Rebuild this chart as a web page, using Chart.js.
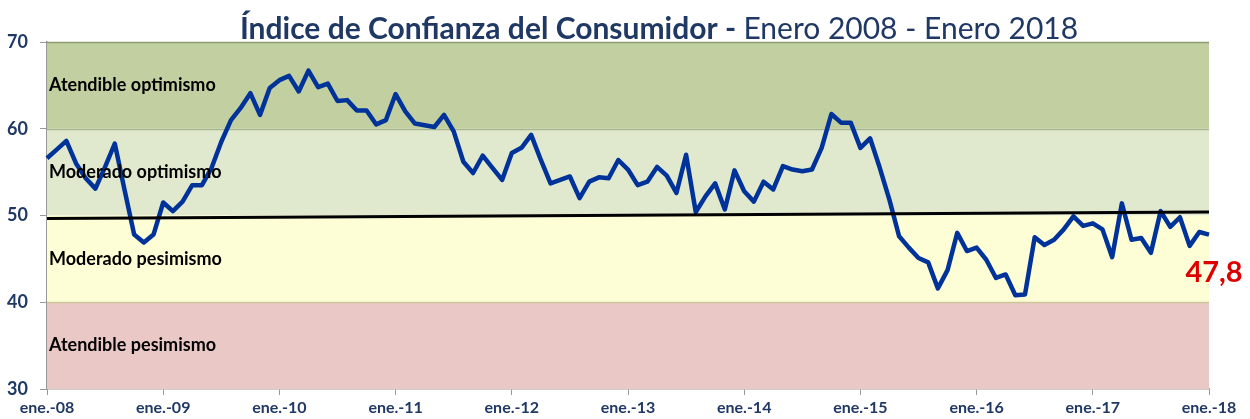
<!DOCTYPE html>
<html lang="es">
<head>
  <meta charset="UTF-8" />
  <title>Índice de Confianza del Consumidor</title>
  <script src="https://cdn.jsdelivr.net/npm/chart.js"></script>
  <style>
    html, body { margin: 0; padding: 0; background: #fff; }
    #wrap { width: 1250px; height: 419px; position: relative; }
  </style>
</head>
<body>
  <div id="wrap"><canvas id="icc"></canvas></div>

  <script>
    // monthly index, ene.-08 .. ene.-18
    const icc2008 = [56.6, 57.6, 58.6, 56.0, 54.3, 53.1, 55.6, 58.3, 53.0, 47.8, 46.9, 47.8];
    const icc2009 = [51.5, 50.5, 51.6, 53.5, 53.5, 55.5, 58.5, 61.0, 62.4, 64.1, 61.6, 64.7];
    const icc2010 = [65.6, 66.1, 64.3, 66.7, 64.8, 65.2, 63.2, 63.3, 62.1, 62.1, 60.5, 61.0];
    const icc2011 = [64.0, 62.0, 60.6, 60.4, 60.2, 61.6, 59.7, 56.2, 54.9, 56.9, 55.5, 54.1];
    const icc2012 = [57.2, 57.8, 59.3, 56.4, 53.7, 54.1, 54.5, 52.0, 53.9, 54.4, 54.3, 56.4];
    const icc2013 = [55.3, 53.5, 53.9, 55.6, 54.6, 52.6, 57.0, 50.4, 52.2, 53.7, 50.7, 55.2];
    const icc2014 = [52.8, 51.6, 53.9, 53.0, 55.7, 55.3, 55.1, 55.3, 57.8, 61.7, 60.7, 60.7];
    const icc2015 = [57.8, 58.9, 55.5, 51.8, 47.6, 46.3, 45.1, 44.6, 41.6, 43.7, 48.0, 45.9];
    const icc2016 = [46.3, 44.9, 42.8, 43.2, 40.8, 40.9, 47.5, 46.6, 47.2, 48.4, 49.9, 48.8];
    const icc2017 = [49.1, 48.4, 45.2, 51.4, 47.2, 47.4, 45.7, 50.5, 48.7, 49.8, 46.5, 48.1];
    const icc2018 = [47.8];

    const monthNames = ['ene.', 'feb.', 'mar.', 'abr.', 'may.', 'jun.', 'jul.', 'ago.', 'sep.', 'oct.', 'nov.', 'dic.'];
    const years = ['08', '09', '10', '11', '12', '13', '14', '15', '16', '17', '18'];
    const yTicks = [30, 40, 50, 60, 70];

    // black trend line: start / end
    const trendValues = [49.65, 50.4];

    // zones
    const zoneNames = ['Atendible optimismo', 'Moderado optimismo', 'Moderado pesimismo', 'Atendible pesimismo'];
    const zoneFrom = [60, 50, 40, 30];
    const zoneTo = [70, 60, 50, 40];
    const zoneColors = ['#c2d0a1', '#e0e8ce', '#fefed6', '#eac8c6'];

    const series = [].concat(icc2008, icc2009, icc2010, icc2011, icc2012, icc2013,
      icc2014, icc2015, icc2016, icc2017, icc2018);
    const labels = [];
    years.forEach(y => monthNames.forEach(m => labels.push(m + '-' + y)));
    labels.length = series.length;

    const navy = '#1f3864';
    const fontFam = 'Lato, "Open Sans", sans-serif';

    const zonePlugin = {
      id: 'zones',
      beforeDatasetsDraw(chart) {
        const { ctx, chartArea: a, scales: { y } } = chart;
        ctx.save();
        zoneNames.forEach((n, i) => {
          const top = y.getPixelForValue(zoneTo[i]);
          const bot = y.getPixelForValue(zoneFrom[i]);
          ctx.fillStyle = zoneColors[i];
          ctx.fillRect(a.left, top, a.right - a.left, bot - top);
        });
        // band edges
        const edges = [[70, '#8c9c70'], [60, '#a8b68d'], [40, '#cbc79b']];
        edges.forEach(([v, c]) => {
          const p = Math.round(y.getPixelForValue(v)) + 0.5;
          ctx.strokeStyle = c;
          ctx.lineWidth = 1.5;
          ctx.beginPath();
          ctx.moveTo(a.left, p);
          ctx.lineTo(a.right, p);
          ctx.stroke();
        });
        ctx.restore();
      },
      afterDatasetsDraw(chart) {
        const { ctx, chartArea: a, scales: { x, y } } = chart;
        ctx.save();
        // zone names
        ctx.font = 'bold 18px ' + fontFam;
        ctx.fillStyle = '#000';
        ctx.textBaseline = 'middle';
        zoneNames.forEach((n, i) => {
          const mid = y.getPixelForValue((zoneFrom[i] + zoneTo[i]) / 2);
          ctx.fillText(n, a.left + 2, mid);
        });
        // last value
        const last = series[series.length - 1];
        const lx = x.getPixelForValue(series.length - 1);
        const ly = y.getPixelForValue(last);
        ctx.font = 'bold 29px ' + fontFam;
        ctx.fillStyle = '#dd0000';
        ctx.textAlign = 'center';
        ctx.textBaseline = 'alphabetic';
        ctx.fillText(last.toFixed(1).replace('.', ','), lx + 5, ly + 47);
        // title (bold part + normal part)
        const t1 = 'Índice de Confianza del Consumidor - ';
        const t2 = 'Enero 2008 - Enero 2018';
        ctx.textAlign = 'left';
        ctx.fillStyle = navy;
        ctx.font = 'bold 30px ' + fontFam;
        const w1 = ctx.measureText(t1).width;
        ctx.font = '30px ' + fontFam;
        const w2 = ctx.measureText(t2).width;
        let tx = 659 - (w1 + w2) / 2;
        ctx.font = 'bold 30px ' + fontFam;
        ctx.fillText(t1, tx, 39);
        ctx.font = '30px ' + fontFam;
        ctx.fillText(t2, tx + w1, 39);
        ctx.restore();
      }
    };

    new Chart(document.getElementById('icc'), {
      type: 'line',
      data: {
        labels,
        datasets: [
          {
            label: 'ICC',
            data: series,
            borderColor: '#003399',
            borderWidth: 4.5,
            pointRadius: 0,
            tension: 0,
            borderJoinStyle: 'round',
            order: 2
          },
          {
            label: 'Tendencia',
            data: [
              { x: labels[0], y: trendValues[0] },
              { x: labels[labels.length - 1], y: trendValues[1] }
            ],
            borderColor: '#000',
            borderWidth: 3,
            pointRadius: 0,
            order: 1
          }
        ]
      },
      options: {
        responsive: true,
        maintainAspectRatio: false,
        animation: false,
        layout: { padding: { top: 42, right: 41, left: 0, bottom: 0 } },
        plugins: { legend: { display: false }, tooltip: { enabled: false }, title: { display: false } },
        scales: {
          x: {
            type: 'category',
            offset: false,
            afterFit: s => { s.height = 30; },
            border: { color: '#999', width: 1.5 },
            grid: {
              drawOnChartArea: false,
              tickLength: 6,
              tickColor: c => (c.index % 12 === 0 ? '#999' : 'rgba(0,0,0,0)')
            },
            ticks: {
              autoSkip: false,
              maxRotation: 0,
              padding: 3,
              color: navy,
              font: { family: fontFam, size: 16, weight: 'bold' },
              callback(v, i) { return i % 12 === 0 ? labels[i] : ''; }
            }
          },
          y: {
            min: 30,
            max: 70,
            afterFit: s => { s.width = 47; },
            afterBuildTicks: s => { s.ticks = yTicks.map(v => ({ value: v })); },
            border: { color: '#999', width: 1.5 },
            grid: { drawOnChartArea: false, tickLength: 7, tickColor: '#999' },
            ticks: {
              padding: 12,
              color: navy,
              font: { family: fontFam, size: 18, weight: 'bold' }
            }
          }
        }
      },
      plugins: [zonePlugin]
    });
  </script>
</body>
</html>
